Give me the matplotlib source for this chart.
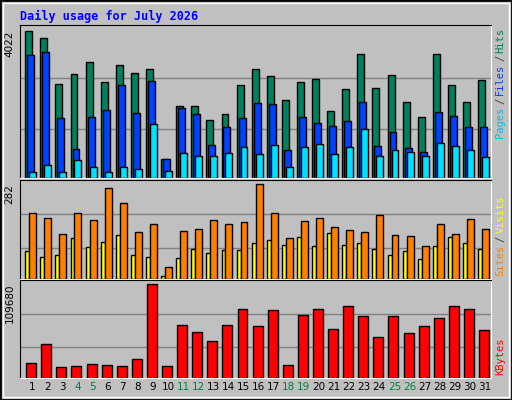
import numpy as np
import matplotlib.pyplot as plt
from matplotlib.patches import Rectangle

days = list(range(1, 32))
weekend_days = [4, 5, 11, 12, 18, 19, 25, 26]

hits = [4022, 3831, 2575, 2848, 3176, 2630, 3094, 2876, 2985, 528, 1975, 1975, 1593, 1756, 2548, 2985,
        2794, 2139, 2630, 2712, 1838, 2439, 3394, 2466, 2821, 2084, 1674, 3394, 2548, 2084, 2685]
files = [3367, 3449, 1647, 801, 1674, 1866, 2548, 1784, 2657, 528, 1920, 1756, 910, 1401, 1647, 2057,
         2029, 774, 1674, 1511, 1429, 1565, 2084, 883, 1265, 828, 719, 1811, 1702, 1401, 1401]
pages = [173, 364, 173, 500, 309, 173, 309, 255, 1483, 200, 692, 610, 610, 692, 855, 664,
         910, 309, 855, 937, 664, 855, 1347, 610, 773, 719, 610, 965, 883, 773, 582]
visits = [196, 181, 132, 196, 175, 270, 224, 138, 162, 37, 141, 147, 175, 162, 169, 282,
          196, 120, 172, 181, 153, 144, 138, 190, 129, 126, 98, 162, 132, 178, 147]
sites = [83, 64, 71, 120, 95, 110, 129, 71, 64, 9, 61, 89, 77, 86, 86, 107,
         116, 101, 123, 98, 135, 101, 107, 89, 71, 83, 58, 98, 123, 107, 89]
kbytes = [17213, 40030, 12409, 13610, 16012, 14811, 13610, 22017, 109680, 13610, 61646, 53240, 43633,
          61646, 80861, 60445, 79661, 14811, 73655, 80861, 56843, 83262, 72455, 47235, 72455, 52039,
          60445, 70052, 83262, 80861, 55642]

BG = "#C0C0C0"
fig = plt.figure(figsize=(5.12, 4.0), dpi=100, facecolor=BG)

# 3D-ish frame
fig.patches.append(Rectangle((0, 0), 1, 1, transform=fig.transFigure, fill=False,
                             edgecolor="black", linewidth=2))
fig.patches.append(Rectangle((0.006, 0.008), 0.988, 0.985, transform=fig.transFigure, fill=False,
                             edgecolor="white", linewidth=1))

x = np.arange(31)


def make_ax(rect, ymax):
    ax = fig.add_axes(rect, facecolor=BG)
    ax.set_xlim(0, 31.2)
    ax.set_ylim(0, ymax)
    for s in ["left", "top"]:
        ax.spines[s].set_color("black")
    for s in ["right", "bottom"]:
        ax.spines[s].set_color("white")
    ax.set_xticks([])
    ax.set_yticks([])
    for f in (0.33, 0.68):
        ax.axhline(f * ymax / 1.04, color="#808080", linewidth=1, zorder=0)
    return ax


kw = dict(align="edge", edgecolor="black", linewidth=1)

ax1 = make_ax([0.039, 0.555, 0.92, 0.3825], max(hits) * 1.04)
ax1.bar(x + 0.35, hits, 0.46, color="#00805C", **kw)
ax1.bar(x + 0.48, files, 0.46, color="#0040FF", **kw)
ax1.bar(x + 0.61, pages, 0.46, color="#00E0FF", **kw)

ax2 = make_ax([0.039, 0.3025, 0.92, 0.2475], max(visits) * 1.04)
ax2.bar(x + 0.35, sites, 0.26, color="#FFFF00", **kw)
ax2.bar(x + 0.61, visits, 0.46, color="#FF8000", **kw)

ax3 = make_ax([0.039, 0.055, 0.92, 0.245], max(kbytes) * 1.04)
ax3.bar(x + 0.41, kbytes, 0.66, color="#FF0000", **kw)

for d in days:
    col = "#008040" if d in weekend_days else "black"
    ax3.text(d - 1 + 0.8, -0.04, str(d), transform=ax3.get_xaxis_transform(),
             ha="center", va="top", fontsize=7.5, color=col)

fig.text(0.039, 0.96, "Daily usage for July 2026", color="#0000FF", fontsize=8.5,
         fontweight="bold", family="DejaVu Sans Mono", va="center")

for ax, v in [(ax1, hits), (ax2, visits), (ax3, kbytes)]:
    ax.text(-0.012, 1 / 1.04, str(max(v)), transform=ax.transAxes, rotation=90,
            ha="right", va="top", fontsize=7.5)

mono = dict(rotation=90, family="DejaVu Sans Mono", fontsize=7.5, ha="center", va="bottom")


def side_label(parts, y0):
    y = y0
    for txt, col in parts:
        fig.text(0.977, y, txt, color=col, **mono)
        y += (len(txt) + 0.4) * 0.0157


side_label([("Pages", "#00C0E0"), ("/", "#404040"), ("Files", "#0040FF"),
            ("/", "#404040"), ("Hits", "#00805C")], 0.655)
side_label([("Sites", "#FF8000"), ("/", "#404040"), ("Visits", "#FFFF00")], 0.31)
side_label([("KBytes", "#FF0000")], 0.062)

fig.savefig("out.png", dpi=100, facecolor=BG)
